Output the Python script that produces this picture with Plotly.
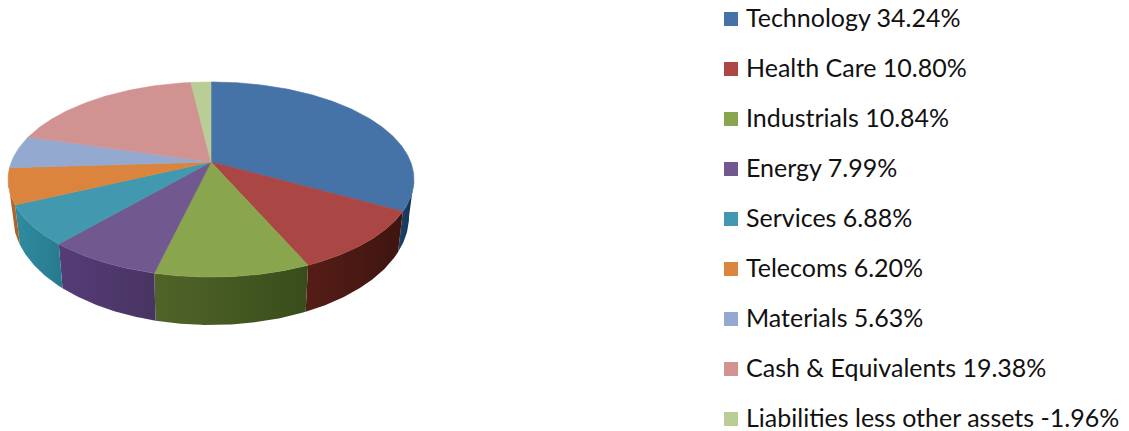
import numpy as np
import plotly.graph_objects as go

categories = ["Technology", "Health Care", "Industrials", "Energy", "Services",
              "Telecoms", "Materials", "Cash & Equivalents", "Liabilities less other assets"]
percentages = [34.24, 10.80, 10.84, 7.99, 6.88, 6.20, 5.63, 19.38, -1.96]
top_colors = ["#4572A7", "#AA4643", "#89A54E", "#71588F", "#4198AF",
              "#DB843D", "#93A9CF", "#D19392", "#B9CD96"]
side_left = ["#1F4468", "#561D17", "#506429", "#553C78", "#2F8CA0",
             "#B46A2E", "#6F84A8", "#A06F6E", "#8CA070"]
side_right = ["#12304D", "#3E1510", "#384D1A", "#483462", "#287A8E",
              "#A85F28", "#6F84A8", "#A06F6E", "#8CA070"]

# Perspective projection of the pie disc onto the page (pixels)
CX, APEX_Y = 211.0, 162.0
K = 0.1795
TOP_A, TOP_B = 199.7, 94.4
BOTTOM_A, BOTTOM_B, BOTTOM_Y = 194.8, 105.0, 197.0
W, H = 1129, 431
LEGEND_MARK_X, LEGEND_TEXT_X = 731, 746


def rim(theta_deg, a, b, cy):
    t = np.radians(theta_deg)
    d = -np.cos(t)
    w = 1 - K * d
    return CX + a * np.sin(t) / w, cy + b * d / w


sizes = np.abs(percentages)
cum = np.concatenate([[0], np.cumsum(sizes)]) / sizes.sum() * 360
vis_lo = np.degrees(np.arccos(-K))
vis_hi = 360 - vis_lo

fig = go.Figure()

# Sides first, so that the top face covers them
for i, cat in enumerate(categories):
    lo, hi = max(cum[i], vis_lo), min(cum[i + 1], vis_hi)
    if hi <= lo:
        continue
    th = np.linspace(lo, hi, max(int(hi - lo) * 2, 4))
    x1, y1 = rim(th, TOP_A, TOP_B, APEX_Y)
    x2, y2 = rim(th[::-1], BOTTOM_A, BOTTOM_B, BOTTOM_Y)
    fig.add_trace(go.Scatter(
        x=np.concatenate([x1, x2]), y=np.concatenate([y1, y2]),
        mode="lines", line=dict(width=0), fill="toself",
        fillgradient=dict(type="horizontal",
                          colorscale=[[0, side_left[i]], [1, side_right[i]]]),
        hoverinfo="skip", showlegend=False))

# Top face
for i, cat in enumerate(categories):
    th = np.linspace(cum[i], cum[i + 1], max(int(cum[i + 1] - cum[i]) * 2, 4))
    x, y = rim(th, TOP_A, TOP_B, APEX_Y)
    fig.add_trace(go.Scatter(
        x=np.concatenate([[CX], x, [CX]]), y=np.concatenate([[APEX_Y], y, [APEX_Y]]),
        mode="lines", line=dict(width=0.6, color=top_colors[i]),
        fill="toself", fillcolor=top_colors[i],
        name=cat, showlegend=False))

# Key
labels = [f"{c} {v:.2f}%" for c, v in zip(categories, percentages)]
fig.add_trace(go.Scatter(
    x=[LEGEND_MARK_X] * len(labels), y=labels, yaxis="y2", mode="markers",
    marker=dict(symbol="square", size=14, color=top_colors), hoverinfo="skip",
    showlegend=False))
fig.add_trace(go.Scatter(
    x=[LEGEND_TEXT_X] * len(labels), y=labels, yaxis="y3", mode="text",
    text=labels, textposition="middle right",
    textfont=dict(family="Lato", size=25, color="#111111"), hoverinfo="skip",
    showlegend=False))

fig.update_layout(
    width=W, height=H, margin=dict(l=0, r=0, t=0, b=0),
    paper_bgcolor="white", plot_bgcolor="white", showlegend=False,
    xaxis=dict(range=[0, W], visible=False, fixedrange=True),
    yaxis=dict(range=[H, 0], visible=False, fixedrange=True),
    yaxis2=dict(overlaying="y", type="category", categoryorder="array", categoryarray=labels,
                range=[8.24, -0.38], visible=False, fixedrange=True),
    yaxis3=dict(overlaying="y", type="category", categoryorder="array", categoryarray=labels,
                range=[8.21, -0.41], visible=False, fixedrange=True),
)
fig.write_html("out.html", config={"displayModeBar": False},
               post_script="document.body.style.margin='0';document.body.style.overflow='hidden';")
